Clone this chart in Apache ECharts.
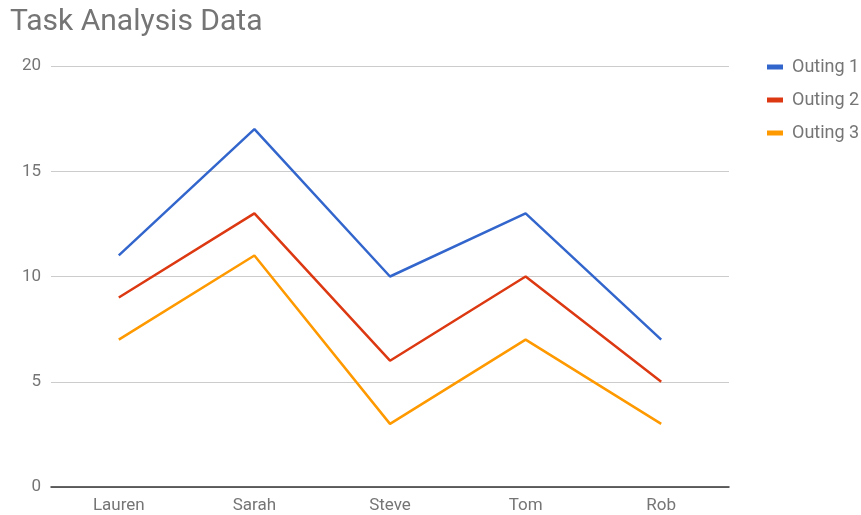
<!DOCTYPE html>
<html>
<head>
<meta charset="utf-8">
<script src="https://cdn.jsdelivr.net/npm/echarts@6/dist/echarts.min.js"></script>
<style>
  html, body { margin: 0; padding: 0; background: #ffffff; }
  #chart { width: 861px; height: 515px; }
</style>
</head>
<body>
<div id="chart"></div>
<script>
const categories = ['Lauren', 'Sarah', 'Steve', 'Tom', 'Rob']
const outing1 = [11, 17, 10, 13, 7]
const outing2 = [9, 13, 6, 10, 5]
const outing3 = [7, 11, 3, 7, 3]
const seriesNames = ['Outing 1', 'Outing 2', 'Outing 3']
const colorList = ['#3366cc', '#dc3912', '#ff9900']

const myChart = echarts.init(document.getElementById('chart'))
const font = 'Roboto'

const lineSeries = (name, data) => ({
  name,
  type: 'line',
  data,
  symbol: 'none',
  lineStyle: { width: 2.5 },
  emphasis: { disabled: true },
})

const option = {
  backgroundColor: '#ffffff',
  color: colorList,
  animation: false,
  title: {
    text: 'Task Analysis Data',
    left: 5,
    top: 2,
    textStyle: { fontFamily: font, fontSize: 30, fontWeight: 'normal', color: '#757575' },
  },
  legend: {
    orient: 'vertical',
    left: 762,
    top: 53,
    itemWidth: 16,
    itemHeight: 5,
    itemGap: 15,
    icon: 'rect',
    textStyle: { fontFamily: font, fontSize: 18, color: '#757575', padding: [0, 0, 0, 4] },
    data: seriesNames,
  },
  grid: {
    left: 51,
    right: 132,
    top: 66,
    bottom: 28,
    containLabel: false,
  },
  xAxis: {
    type: 'category',
    boundaryGap: true,
    data: categories,
    axisLine: { lineStyle: { color: '#333333', width: 1.5 } },
    axisTick: { show: false },
    axisLabel: { fontFamily: font, fontSize: 17, color: '#757575', margin: 10 },
  },
  yAxis: {
    type: 'value',
    min: 0,
    max: 20,
    interval: 5,
    axisLine: { show: false },
    axisTick: { show: false },
    splitLine: { lineStyle: { color: '#cccccc', width: 1 } },
    axisLabel: { fontFamily: font, fontSize: 17, color: '#757575', margin: 10 },
  },
  series: [
    lineSeries(seriesNames[0], outing1),
    lineSeries(seriesNames[1], outing2),
    lineSeries(seriesNames[2], outing3),
  ],
}
myChart.setOption(option, true)
</script>
</body>
</html>
